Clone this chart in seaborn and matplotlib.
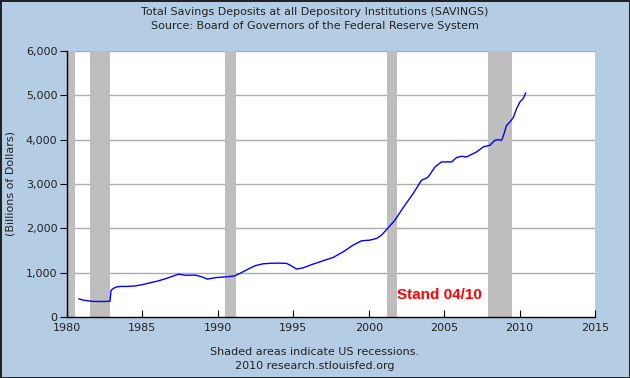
import matplotlib
matplotlib.use("Agg")
import matplotlib.pyplot as plt
import seaborn as sns
import pandas as pd

# ---- data ----
years = [1980.80, 1981.0, 1981.3, 1981.6, 1982.0, 1982.5, 1982.85, 1982.92, 1983.1, 1983.3,
         1983.6, 1984.0, 1984.5, 1985.0, 1985.5, 1986.0, 1986.5, 1987.0, 1987.4, 1987.9,
         1988.5, 1988.9, 1989.3, 1989.9, 1990.5, 1991.1, 1991.5, 1992.0, 1992.5, 1993.0,
         1993.5, 1994.1, 1994.56, 1994.78, 1995.22, 1995.66, 1996.32, 1996.98, 1997.65, 1998.31,
         1998.97, 1999.53, 2000.08, 2000.52, 2000.85, 2001.19, 2001.74, 2002.29, 2002.95, 2003.5,
         2003.75, 2003.95, 2004.39, 2004.83, 2005.5, 2005.82, 2006.15, 2006.49, 2006.7, 2007.15,
         2007.59, 2008.03, 2008.36, 2008.58, 2008.8, 2008.9, 2009.14, 2009.36, 2009.58, 2009.8,
         2010.02, 2010.24, 2010.4]
savings = [412, 385, 370, 355, 350, 350, 355, 600, 650, 680,
           690, 690, 700, 730, 770, 810, 860, 920, 965, 940,
           945, 910, 855, 890, 905, 925, 990, 1080, 1160, 1200,
           1212, 1215, 1209, 1171, 1081, 1110, 1194, 1269, 1344, 1471,
           1622, 1719, 1734, 1772, 1847, 1975, 2185, 2470, 2786, 3086,
           3120, 3160, 3385, 3498, 3498, 3596, 3626, 3610, 3648, 3723,
           3836, 3874, 3986, 4000, 3986, 4060, 4324, 4399, 4498, 4700,
           4849, 4925, 5052]

recession_start = [1980.0, 1981.5, 1990.5, 2001.2, 2007.92]
recession_end = [1980.5, 1982.88, 1991.2, 2001.88, 2009.5]

x_ticks = [1980, 1985, 1990, 1995, 2000, 2005, 2010, 2015]
y_ticks = [0, 1000, 2000, 3000, 4000, 5000, 6000]
y_tick_labels = ["0", "1,000", "2,000", "3,000", "4,000", "5,000", "6,000"]

title_lines = ["Total Savings Deposits at all Depository Institutions (SAVINGS)",
               "Source: Board of Governors of the Federal Reserve System"]
footer_lines = ["Shaded areas indicate US recessions.", "2010 research.stlouisfed.org"]
y_label = "(Billions of Dollars)"
note = "Stand 04/10"

# ---- figure ----
BG = "#B4CDE4"
W, H = 630, 378
fig = plt.figure(figsize=(W / 100, H / 100), dpi=100, facecolor=BG)
fig.patch.set_edgecolor("#222222")
fig.patch.set_linewidth(2)

L, R, T, B = 67, 595, 51, 317
ax = fig.add_axes([L / W, 1 - B / H, (R - L) / W, (B - T) / H])
ax.set_facecolor("white")

for s, e in zip(recession_start, recession_end):
    ax.axvspan(s, e, color="#BEBEBE", lw=0, zorder=1)

for yv in y_ticks[1:]:
    ax.axhline(yv, color="#ABABAB", lw=1.0, zorder=0.5)

df = pd.DataFrame({"year": years, "savings": savings})
sns.lineplot(data=df, x="year", y="savings", ax=ax, color="#0000FF", lw=1.0,
             sort=False, zorder=3)

ax.set_xlim(1980, 2015)
ax.set_ylim(0, 6000)
ax.set_xticks(x_ticks)
ax.set_xticklabels([str(v) for v in x_ticks])
ax.set_yticks(y_ticks)
ax.set_yticklabels(y_tick_labels)
ax.set_xlabel("")
ax.set_ylabel("")

for side in ["top", "right"]:
    ax.spines[side].set_visible(False)
for side in ["left", "bottom"]:
    ax.spines[side].set_color("black")
    ax.spines[side].set_linewidth(1.0)

ax.tick_params(axis="x", direction="in", length=5, width=0.8, colors="black",
               labelcolor="#222222", labelsize=8, pad=4)
ax.tick_params(axis="y", direction="out", length=5, width=0.8, colors="black",
               labelcolor="#222222", labelsize=8, pad=2)
for lab in ax.get_xticklabels() + ax.get_yticklabels():
    lab.set_family("DejaVu Sans")

ax.text(2001.85, 330, note, color="#FF0000", fontsize=11, fontweight="bold",
        family="Liberation Sans", ha="left", va="bottom", zorder=4)

fig.text(0.5, 1 - 12 / H, title_lines[0], ha="center", va="center",
         fontsize=8, color="#222222", family="DejaVu Sans")
fig.text(0.5, 1 - 26 / H, title_lines[1], ha="center", va="center",
         fontsize=8, color="#222222", family="DejaVu Sans")
fig.text(0.5, 1 - 352 / H, footer_lines[0], ha="center", va="center",
         fontsize=8, color="#222222", family="DejaVu Sans")
fig.text(0.5, 1 - 366 / H, footer_lines[1], ha="center", va="center",
         fontsize=8, color="#222222", family="DejaVu Sans")
fig.text(11 / W, 1 - 184 / H, y_label, ha="center", va="center", rotation=90,
         fontsize=8, color="#222222", family="DejaVu Sans")

fig.savefig("out.png", dpi=100, facecolor=BG, edgecolor="#222222")
